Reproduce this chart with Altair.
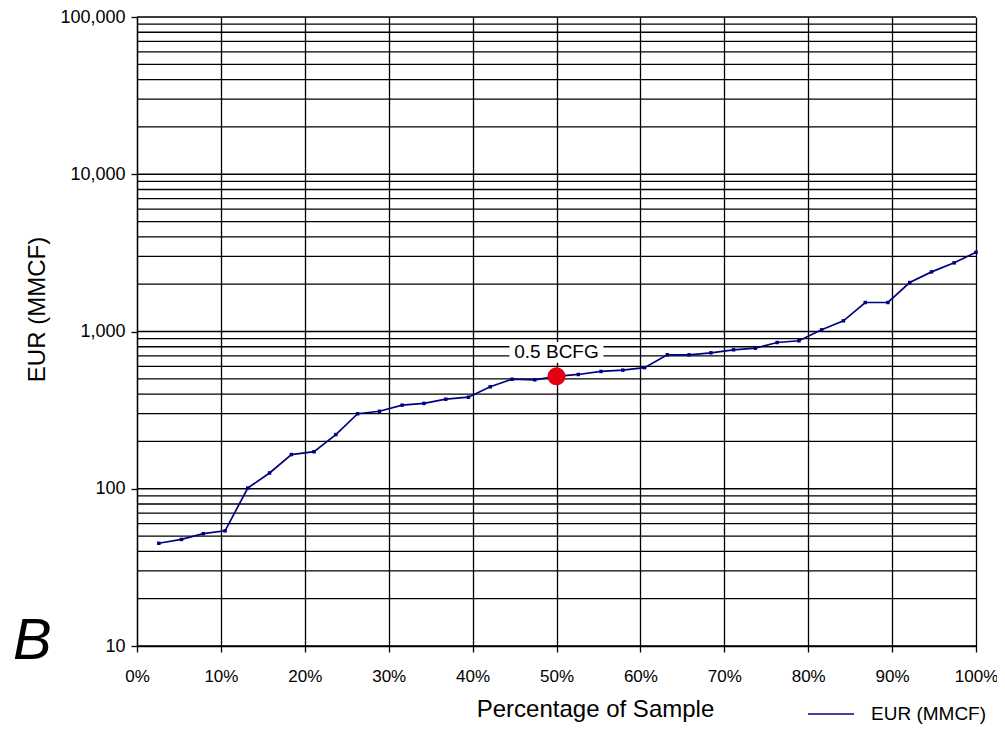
import altair as alt
import pandas as pd

# Data
pct = [0.026, 0.053, 0.079, 0.105, 0.132, 0.158, 0.184, 0.211, 0.237, 0.263,
       0.289, 0.316, 0.342, 0.368, 0.395, 0.421, 0.447, 0.474, 0.500, 0.526,
       0.553, 0.579, 0.605, 0.632, 0.658, 0.684, 0.711, 0.737, 0.763, 0.789,
       0.816, 0.842, 0.868, 0.895, 0.921, 0.947, 0.974, 1.000]
eur = [45, 47.6, 51.8, 54, 101, 126, 165, 172, 221, 300,
       311, 340, 349, 371, 382, 445, 497, 493, 519, 533,
       557, 568, 589, 711, 711, 732, 765, 783, 851, 873,
       1025, 1170, 1529, 1529, 2048, 2394, 2733, 3190]
series_name = "EUR (MMCF)"

median_pct = [0.5]
median_eur = [519]
median_label = ["0.5 BCFG"]

x_ticks = [0.0, 0.1, 0.2, 0.3, 0.4, 0.5, 0.6, 0.7, 0.8, 0.9, 1.0]
y_ticks = [10, 100, 1000, 10000, 100000]
y_grid = [10, 20, 30, 40, 50, 60, 70, 80, 90,
          100, 200, 300, 400, 500, 600, 700, 800, 900,
          1000, 2000, 3000, 4000, 5000, 6000, 7000, 8000, 9000,
          10000, 20000, 30000, 40000, 50000, 60000, 70000, 80000, 90000,
          100000]

df = pd.DataFrame({"pct": pct, "eur": eur, "series": series_name})
med = pd.DataFrame({"pct": median_pct, "eur": median_eur, "label": median_label})
grid_df = pd.DataFrame({"g": y_grid})
letter_df = pd.DataFrame({"t": ["B"]})

FONT = "Liberation Sans"
NAVY = "#000080"

xscale = alt.Scale(domain=[0, 1], nice=False, zero=False)
yscale = alt.Scale(type="log", domain=[10, 100000], nice=False)

x_axis = alt.Axis(values=x_ticks, format=".0%", grid=True, gridColor="black",
                  gridWidth=1.3, gridOpacity=1, tickColor="black", tickSize=6,
                  tickWidth=1.3, domainColor="black", domainWidth=1.3,
                  labelFontSize=17, labelColor="black", labelPadding=16,
                  labelFlush=False, labelFont=FONT, title="Percentage of Sample",
                  titleFontSize=24, titleFontWeight="normal", titleColor="black",
                  titleFont=FONT, titleX=458, titleY=70, titleBaseline="alphabetic")
y_axis = alt.Axis(values=y_ticks, format=",", grid=False, tickColor="black",
                  tickSize=6, tickWidth=1.3, domainColor="black", domainWidth=1.3,
                  labelFontSize=18, labelColor="black", labelPadding=6,
                  labelFlush=False, labelFont=FONT, title="EUR (MMCF)", titleFontSize=24,
                  titleFontWeight="normal", titleColor="black", titleFont=FONT,
                  titlePadding=10, titleY=292)

hgrid = alt.Chart(grid_df).mark_rule(color="black", strokeWidth=1.3).encode(
    y=alt.Y("g:Q", scale=yscale, axis=y_axis, title="EUR (MMCF)")
)

line = alt.Chart(df).mark_line(
    strokeWidth=1.7,
    point=alt.OverlayMarkDef(shape="square", size=12, filled=True, color=NAVY, opacity=1),
).encode(
    x=alt.X("pct:Q", scale=xscale, axis=x_axis),
    y=alt.Y("eur:Q", scale=yscale, axis=y_axis, title="EUR (MMCF)"),
    color=alt.Color("series:N",
                    scale=alt.Scale(domain=[series_name], range=[NAVY]),
                    legend=alt.Legend(title=None, orient="none", legendX=670, legendY=673,
                                      symbolType="stroke", symbolSize=2116,
                                      symbolStrokeWidth=1.6, symbolStrokeColor=NAVY,
                                      labelFontSize=19, labelFont=FONT, labelColor="black",
                                      labelOffset=16, padding=0)),
)

box = alt.Chart(med).mark_point(
    shape="M-1,-0.22H1V0.22H-1Z", size=8836, filled=True, color="white",
    opacity=1, strokeWidth=0, yOffset=-24
).encode(x=alt.X("pct:Q", scale=xscale, axis=x_axis),
         y=alt.Y("eur:Q", scale=yscale, axis=y_axis, title="EUR (MMCF)"))

label = alt.Chart(med).mark_text(
    fontSize=19, font=FONT, color="black", baseline="middle", align="center", yOffset=-24
).encode(x=alt.X("pct:Q", scale=xscale, axis=x_axis),
         y=alt.Y("eur:Q", scale=yscale, axis=y_axis, title="EUR (MMCF)"),
         text="label:N")

dot = alt.Chart(med).mark_point(
    shape="circle", size=324, filled=True, color="#E3000F", opacity=1
).encode(x=alt.X("pct:Q", scale=xscale, axis=x_axis),
         y=alt.Y("eur:Q", scale=yscale, axis=y_axis, title="EUR (MMCF)"))

letter = alt.Chart(letter_df).mark_text(
    fontSize=58, font=FONT, fontStyle="italic", color="black",
    align="left", baseline="alphabetic"
).encode(x=alt.value(-124), y=alt.value(642), text="t:N")

chart = alt.layer(hgrid, line, box, label, dot, letter).properties(
    width=839, height=629,
    autosize=alt.AutoSizeParams(type="none"),
    padding={"left": 129, "top": 9, "right": 21, "bottom": 80},
).configure_view(stroke=None).configure(font=FONT)

chart.save("out.html", embed_options={"renderer": "svg", "actions": False})
